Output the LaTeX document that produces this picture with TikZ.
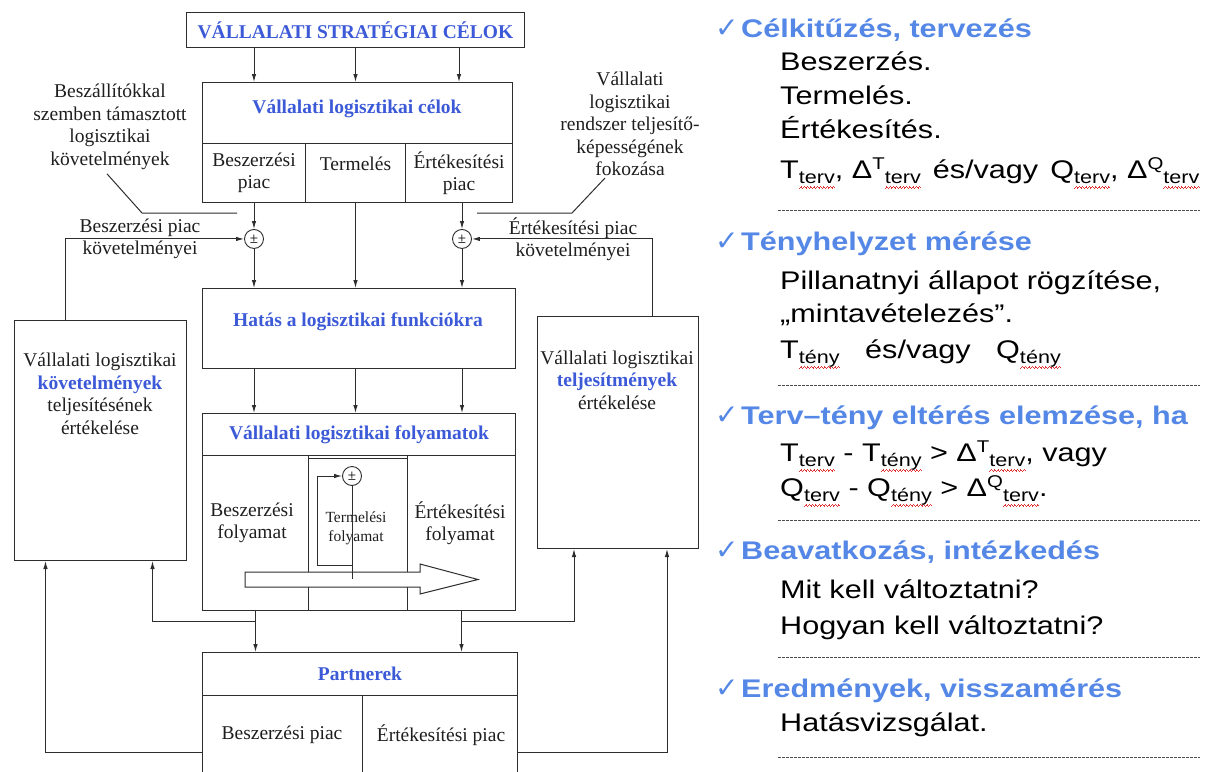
\documentclass[tikz,border=0pt]{standalone}
\usepackage{fontspec}
\setmainfont{Liberation Serif}
\newfontfamily\arialf[FakeStretch=1.2]{Liberation Sans}
\newfontfamily\dejavu{DejaVu Sans}
\usetikzlibrary{positioning, calc, arrows.meta}

\definecolor{diagblue}{RGB}{60,90,215}
\definecolor{headblue}{RGB}{85,135,230}
\definecolor{wavered}{RGB}{225,50,50}
\definecolor{linec}{RGB}{45,45,45}
\definecolor{txtc}{RGB}{30,30,30}

\newsavebox\wbox
\newcommand\wavebit{\hbox{\rule[-10.4pt]{0.8pt}{0.7pt}\rule[-9.7pt]{0.8pt}{0.7pt}\rule[-9pt]{0.8pt}{0.7pt}\rule[-9.7pt]{0.8pt}{0.7pt}}}
\newcommand\lo[1]{\raisebox{-5pt}{\fontsize{18}{18}\selectfont #1}}
\newcommand\hi[1]{\raisebox{9pt}{\fontsize{17}{17}\selectfont #1}}
\newcommand\wlo[1]{\sbox\wbox{\lo{#1}}%
  \rlap{\color{wavered}\hbox to \wd\wbox{\xleaders\wavebit\hfil}}\usebox\wbox}
\newcommand\headat[3]{%
  \node[chk] (#1c) at (715,#2) {✓};
  \node[rhead] (#1) at (741,#2) {#3};}

\begin{document}
\begin{tikzpicture}[x=1pt, y=-1pt,
    lnk/.style={draw=linec, line width=1pt},
    arr/.style={lnk, -{Latex[length=8pt,width=4.5pt]}},
    blk/.style={lnk, rectangle, inner sep=0pt, anchor=north west},
    txt/.style={font=\fontsize{19.5}{22.5}\selectfont, align=center, inner sep=0pt, text=txtc},
    btxt/.style={font=\bfseries\fontsize{19.5}{22.5}\selectfont, align=center, inner sep=0pt, text=diagblue},
    stxt/.style={txt, font=\fontsize{15.5}{19}\selectfont},
    pm/.style={lnk, circle, line width=0.9pt, minimum size=19pt, inner sep=0pt, fill=white, font=\fontsize{15}{15}\selectfont},
    chk/.style={anchor=base west, inner sep=0pt, font=\dejavu\bfseries\fontsize{28}{28}\selectfont, text=headblue},
    rhead/.style={anchor=base west, inner sep=0pt, font=\arialf\bfseries\fontsize{25.5}{30}\selectfont, text=headblue},
    rtext/.style={anchor=base west, inner sep=0pt, font=\arialf\fontsize{25.5}{30}\selectfont, text=black},
    sep/.style={dash pattern=on 2.5pt off 1.5pt, line width=0.8pt, black!70}]

  \useasboundingbox (0,0) rectangle (1209,771);
  \clip (0,0) rectangle (1209,771);

  % strategic goals
  \node[blk, btxt, minimum width=338pt, minimum height=35pt] (strat) at (186,12) {VÁLLALATI STRATÉGIAI CÉLOK};

  % logistic goals
  \node[blk, minimum width=310pt, minimum height=120pt] (celok) at (202,82) {};
  \node[btxt] (celokT) at (357,109) {Vállalati logisztikai célok};
  \node[blk, minimum width=103pt, minimum height=59pt] (cA) at (202,143) {};
  \node[blk, minimum width=100pt, minimum height=59pt] (cB) at (305,143) {};
  \node[blk, minimum width=107pt, minimum height=59pt] (cC) at (405,143) {};
  \node[txt] (cAT) at (cA) {Beszerzési\\piac};
  \node[txt] (cBT) at ($(cB)+(0,-9)$) {Termelés};
  \node[txt] (cCT) at (cC) {Értékesítési\\piac};

  % side notes
  \node[txt] (beszall) at (110,127) {Beszállítókkal\\szemben támasztott\\logisztikai\\követelmények};
  \node[txt] (fokoz) at (630,124) {Vállalati\\logisztikai\\rendszer teljesítő-\\képességének\\fokozása};
  \coordinate (annA) at (237,213);
  \coordinate (annC) at (477,213);
  \draw[lnk] ($(beszall.south)+(-3,4)$) -- (142,213) -- (annA);
  \draw[lnk] (605,178) -- (572,213) -- (annC);

  % comparators
  \node[pm, below=26pt of cA] (pmA) {±};
  \node[pm, below=26pt of cC, xshift=3pt] (pmB) {±};
  \node[txt] (bpk) at (140,239) {Beszerzési piac\\követelményei};
  \node[txt] (epk) at (573,239) {Értékesítési piac\\követelményei};

  % effect on functions
  \node[blk, minimum width=313pt, minimum height=80pt] (hatas) at (202,288) {};
  \node[btxt] (hatasT) at (358,322) {Hatás a logisztikai funkciókra};

  % processes
  \node[blk, btxt, minimum width=313pt, minimum height=42pt] (flyH) at (202,413) {Vállalati logisztikai folyamatok};
  \node[blk, minimum width=106pt, minimum height=155pt] (fA) at (202,455) {};
  \node[blk, minimum width=99pt, minimum height=152pt] (fB) at (308,458) {};
  \node[blk, minimum width=108pt, minimum height=155pt] (fC) at (407,455) {};
  \node[txt] (fAT) at (252,523) {Beszerzési\\folyamat};
  \node[stxt] (fBT) at (356,528) {Termelési\\folyamat};
  \node[txt] (fCT) at (460,523) {Értékesítési\\folyamat};
  \draw[lnk, fill=white] (245,572) -- (420,572) -- (420,564) -- (478,579.5) -- (420,594) -- (420,587) -- (245,587) -- cycle;
  \node[pm] (pmT) at (352,476) {±};
  \coordinate (lpBot) at (352,579);
  \coordinate (lpC) at (317,565);
  \draw[lnk] (pmT) -- (lpBot);
  \draw[arr] (pmT |- lpC) -- (lpC) |- (pmT);

  % partners
  \node[blk, btxt, minimum width=315pt, minimum height=43pt] (partner) at (202,652) {Partnerek};
  \node[blk, minimum width=160pt, minimum height=100pt] (pA) at (202,695) {};
  \node[blk, minimum width=155pt, minimum height=100pt] (pB) at (362,695) {};
  \node[txt] (pAT) at (282,735) {Beszerzési piac};
  \node[txt] (pBT) at (441,735) {Értékesítési piac};

  % evaluation boxes
  \node[blk, minimum width=172pt, minimum height=240pt] (kov) at (14,320) {};
  \node[txt] (kovT) at (100,394) {Vállalati logisztikai\\{\bfseries\color{diagblue}követelmények}\\teljesítésének\\értékelése};
  \node[blk, minimum width=161pt, minimum height=232pt] (telj) at (537,316) {};
  \node[txt] (teljT) at (617,380) {Vállalati logisztikai\\{\bfseries\color{diagblue}teljesítmények}\\értékelése};

  % arrows
  \foreach \c in {cA,cB,cC}
    \draw[arr] (strat.south -| \c.center) -- (celok.north -| \c.center);
  \draw[arr] (cA.south) -- (pmA);
  \draw[arr] (cC.south -| pmB) -- (pmB);
  \draw[arr] (pmA) -- (pmA |- hatas.north);
  \draw[arr] (pmB) -- (pmB |- hatas.north);
  \draw[arr] (cB.south) -- (cB |- hatas.north);
  \foreach \c in {cA,cB,pmB}
    \draw[arr] (hatas.south -| \c) -- (flyH.north -| \c);
  \draw[arr] ($(kov.north)+(-35,0)$) |- (pmA);
  \draw[arr] ($(telj.north)+(34,0)$) |- (pmB);

  \coordinate (brA) at ($(fA.south)+(0,10)$);
  \coordinate (brC) at ($(fC.south)+(0,10)$);
  \draw[arr] (fA.south) -- (fA.south |- partner.north);
  \draw[arr] (fC.south) -- (fC.south |- partner.north);
  \draw[arr] (brA) -| ($(kov.south)+(52,0)$);
  \draw[arr] (brC) -| ($(telj.south)+(-44,0)$);
  \draw[arr] ($(pA.west)+(0,7)$) -| ($(kov.south)+(-55,0)$);
  \draw[arr] ($(pB.east)+(0,7)$) -| ($(telj.south)+(49,0)$);

  % right column
  \headat{h1}{37}{Célkitűzés, tervezés}
  \node[rtext] (b11) at (780,70) {Beszerzés.};
  \node[rtext] (b12) at (780,104) {Termelés.};
  \node[rtext] (b13) at (780,138) {Értékesítés.};
  \node[rtext] (b14) at (780,178) {T\wlo{terv}, Δ\hi{T}\wlo{terv}\hspace{12pt}és/vagy\hspace{12pt}Q\wlo{terv}, Δ\hi{Q}\wlo{terv}};

  \headat{h2}{250}{Tényhelyzet mérése}
  \node[rtext] (b21) at (780,289) {Pillanatnyi állapot rögzítése,};
  \node[rtext] (b22) at (780,322) {„mintavételezés”.};
  \node[rtext] (b23) at (780,358) {T\wlo{tény}\ \ \ és/vagy\ \ \ Q\wlo{tény}};

  \headat{h3}{424}{Terv–tény eltérés elemzése, ha}
  \node[rtext] (b31) at (780,461) {T\wlo{terv} - T\wlo{tény} > Δ\hi{T}\wlo{terv}, vagy};
  \node[rtext] (b32) at (780,496) {Q\wlo{terv} - Q\wlo{tény} > Δ\hi{Q}\wlo{terv}.};

  \headat{h4}{559}{Beavatkozás, intézkedés}
  \node[rtext] (b41) at (780,598) {Mit kell változtatni?};
  \node[rtext] (b42) at (780,634) {Hogyan kell változtatni?};

  \headat{h5}{697}{Eredmények, visszamérés}
  \node[rtext] (b51) at (780,731) {Hatásvizsgálat.};

  \foreach \y in {210,385,520,657,757}
    \draw[sep] (778,\y) -- (1200,\y);
\end{tikzpicture}
\end{document}
